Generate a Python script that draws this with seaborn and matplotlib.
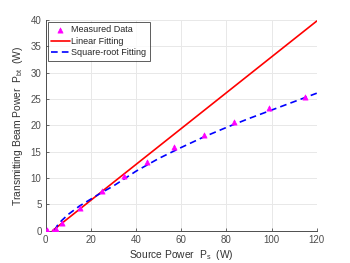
import matplotlib
matplotlib.use("Agg")
import matplotlib.pyplot as plt
import seaborn as sns
import pandas as pd

src_power = [0.5, 3.3, 4.5, 7, 15, 25, 34.5, 45, 57, 70, 83.5, 99, 115]
beam_power = [0.05, 0.0, 0.35, 1.4, 4.4, 7.5, 10.3, 13.0, 15.8, 18.2, 20.7, 23.2, 25.3]

# fitted curves
lin_x = [3.0, 120]
lin_y = [0.0, 39.8]
sqrt_x = [4, 5, 7, 10, 15, 20, 25, 30, 40, 50, 60, 70, 80, 90, 100, 110, 120]
sqrt_y = [0.0, 0.9, 1.9, 3.1, 4.7, 6.0, 7.3, 8.5, 11.3, 13.7, 15.8, 17.8, 19.6, 21.3, 22.9, 24.5, 26.1]

sns.set_style("whitegrid")
plt.rcParams["font.family"] = ["Liberation Sans", "DejaVu Sans"]
plt.rcParams["mathtext.fontset"] = "custom"
plt.rcParams["mathtext.rm"] = "Liberation Sans"
plt.rcParams["mathtext.it"] = "Liberation Sans"

df = pd.DataFrame({"x": src_power, "y": beam_power})
lin = pd.DataFrame({"x": lin_x, "y": lin_y})
sq = pd.DataFrame({"x": sqrt_x, "y": sqrt_y})

fig = plt.figure(figsize=(3.5, 2.63), dpi=100)
ax = fig.add_axes([0.1306, 0.1228, 0.7744, 0.8012])

sns.scatterplot(data=df, x="x", y="y", ax=ax, marker="^", color="#ff00ff",
                s=14, edgecolor="#ff00ff", linewidth=0.5, label="Measured Data", zorder=3)
sns.lineplot(data=lin, x="x", y="y", ax=ax, color="#ff0000", linewidth=1.2,
             label="Linear Fitting", zorder=2)
sns.lineplot(data=sq, x="x", y="y", ax=ax, color="#0000ff", linewidth=1.2,
             label="Square-root Fitting", zorder=2)
ax.lines[-1].set_dashes([4, 2.5])

ax.set_xlim(0, 120)
ax.set_ylim(0, 40)
ax.set_xticks([0, 20, 40, 60, 80, 100, 120])
ax.set_yticks([0, 5, 10, 15, 20, 25, 30, 35, 40])
ax.grid(True, color="#e8e8e8", linewidth=0.7)

for s in ["top", "right"]:
    ax.spines[s].set_visible(False)
for s in ["left", "bottom"]:
    ax.spines[s].set_color("#4d4d4d")
    ax.spines[s].set_linewidth(0.7)

ax.tick_params(direction="in", length=2.5, width=0.6, colors="#4d4d4d",
               labelsize=7, labelcolor="#4d4d4d", pad=3, left=True, bottom=True)

ax.set_xlabel(r"Source Power  P$_\mathrm{s}$  (W)", fontsize=7.4, color="#333333", labelpad=2)
ax.set_ylabel(r"Transmitting Beam Power  P$_\mathrm{bt}$  (W)", fontsize=7.4, color="#333333", labelpad=4)

leg = ax.legend(loc="upper left", fontsize=6.5, frameon=True, fancybox=False,
                borderpad=0.35, handlelength=2.1, handletextpad=0.2, labelspacing=0.3,
                borderaxespad=0.2)
leg.get_frame().set_edgecolor("#333333")
leg.get_frame().set_linewidth(0.7)

fig.savefig("out.png", dpi=100)
